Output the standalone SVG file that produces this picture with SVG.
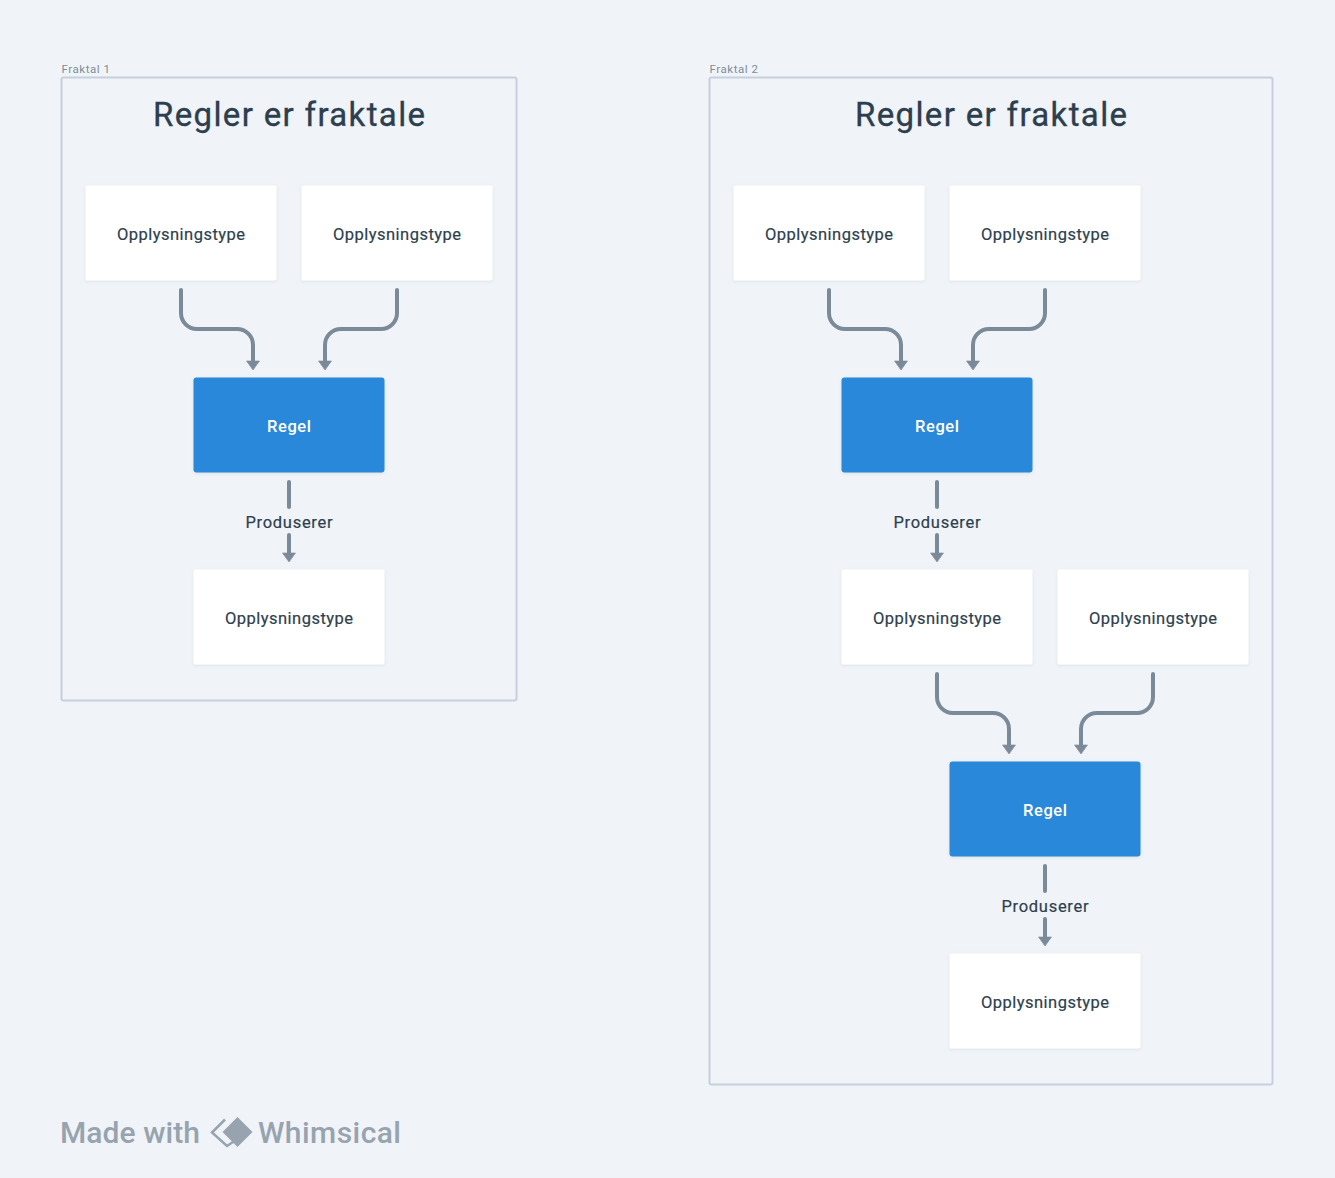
<svg xmlns="http://www.w3.org/2000/svg" width="1335" height="1178" viewBox="0 0 1335 1178">
<defs>
<style>
text{font-family:"Roboto","Liberation Sans",sans-serif;text-anchor:middle}
.frame{fill:none;stroke:#c5d0dc;stroke-width:2}
.flabel{font-size:11.5px;fill:#7f8d9b;text-anchor:start;letter-spacing:.5px}
.title{font-size:33px;font-weight:400;fill:#2d3e4e;stroke:#2d3e4e;stroke-width:.35px}
.box{fill:#fff;filter:url(#s)}
.rule{fill:#2b88da;filter:url(#s)}
.t{font-size:16.5px;font-weight:400;fill:#2f3f4e;stroke:#2f3f4e;stroke-width:.2px}
.w{font-size:16.5px;font-weight:500;fill:#fff}
.c{fill:none;stroke:#7b8a99;stroke-width:4;stroke-linecap:round;stroke-linejoin:round}
.brand{font-size:30px;font-weight:500;fill:#97a3ae;text-anchor:start}
</style>
<filter id="s" x="-5%" y="-5%" width="110%" height="115%"><feDropShadow dx="0" dy="1" stdDeviation="1.500" flood-color="#5d7080" flood-opacity=".16"/></filter>
<path id="h" d="M-6.500 0H6.500L0 9Z" fill="#7b8a99" stroke="#7b8a99" stroke-width=".6" stroke-linejoin="round"/>
</defs>
<rect width="1335" height="1178" fill="#f0f4f8"/>
<g id="frame1"><rect class="frame" x="61.500" y="77.500" width="455" height="623" rx="2"/><text class="flabel" x="61.500" y="72.500" textLength="49" lengthAdjust="spacing">Fraktal 1</text><text class="title" x="289" y="125.500" textLength="272" lengthAdjust="spacing">Regler er fraktale</text></g>
<g id="frame2"><rect class="frame" x="709.500" y="77.500" width="563" height="1007" rx="2"/><text class="flabel" x="709.500" y="72.500" textLength="49" lengthAdjust="spacing">Fraktal 2</text><text class="title" x="991" y="125.500" textLength="272" lengthAdjust="spacing">Regler er fraktale</text></g>
<g id="connectors">
<path class="c" d="M181 290V313A16 16 0 0 0 197 329H237A16 16 0 0 1 253 345V362"/><use href="#h" x="253" y="361"/>
<path class="c" d="M397 290V313A16 16 0 0 1 381 329H341A16 16 0 0 0 325 345V362"/><use href="#h" x="325" y="361"/>
<path class="c" d="M289 482V507"/><path class="c" d="M289 535V554"/><use href="#h" x="289" y="553"/>
<path class="c" d="M829 290V313A16 16 0 0 0 845 329H885A16 16 0 0 1 901 345V362"/><use href="#h" x="901" y="361"/>
<path class="c" d="M1045 290V313A16 16 0 0 1 1029 329H989A16 16 0 0 0 973 345V362"/><use href="#h" x="973" y="361"/>
<path class="c" d="M937 482V507"/><path class="c" d="M937 535V554"/><use href="#h" x="937" y="553"/>
<path class="c" d="M937 674V697A16 16 0 0 0 953 713H993A16 16 0 0 1 1009 729V746"/><use href="#h" x="1009" y="745"/>
<path class="c" d="M1153 674V697A16 16 0 0 1 1137 713H1097A16 16 0 0 0 1081 729V746"/><use href="#h" x="1081" y="745"/>
<path class="c" d="M1045 866V891"/><path class="c" d="M1045 919V938"/><use href="#h" x="1045" y="937"/>
<text class="t" x="289" y="527.500" textLength="87" lengthAdjust="spacing">Produserer</text><text class="t" x="937" y="527.500" textLength="87" lengthAdjust="spacing">Produserer</text><text class="t" x="1045" y="911.500" textLength="87" lengthAdjust="spacing">Produserer</text>
</g>
<g id="n1"><rect class="box" x="85.500" y="185.500" width="191" height="95" rx="2"/><text class="t" x="181" y="239.500" textLength="128" lengthAdjust="spacing">Opplysningstype</text></g>
<g id="n2"><rect class="box" x="301.500" y="185.500" width="191" height="95" rx="2"/><text class="t" x="397" y="239.500" textLength="128" lengthAdjust="spacing">Opplysningstype</text></g>
<g id="n3"><rect class="rule" x="193.500" y="377.500" width="191" height="95" rx="3"/><text class="w" x="289" y="431.500" textLength="44" lengthAdjust="spacing">Regel</text></g>
<g id="n4"><rect class="box" x="193.500" y="569.500" width="191" height="95" rx="2"/><text class="t" x="289" y="623.500" textLength="128" lengthAdjust="spacing">Opplysningstype</text></g>
<g id="n5"><rect class="box" x="733.500" y="185.500" width="191" height="95" rx="2"/><text class="t" x="829" y="239.500" textLength="128" lengthAdjust="spacing">Opplysningstype</text></g>
<g id="n6"><rect class="box" x="949.500" y="185.500" width="191" height="95" rx="2"/><text class="t" x="1045" y="239.500" textLength="128" lengthAdjust="spacing">Opplysningstype</text></g>
<g id="n7"><rect class="rule" x="841.500" y="377.500" width="191" height="95" rx="3"/><text class="w" x="937" y="431.500" textLength="44" lengthAdjust="spacing">Regel</text></g>
<g id="n8"><rect class="box" x="841.500" y="569.500" width="191" height="95" rx="2"/><text class="t" x="937" y="623.500" textLength="128" lengthAdjust="spacing">Opplysningstype</text></g>
<g id="n9"><rect class="box" x="1057.500" y="569.500" width="191" height="95" rx="2"/><text class="t" x="1153" y="623.500" textLength="128" lengthAdjust="spacing">Opplysningstype</text></g>
<g id="n10"><rect class="rule" x="949.500" y="761.500" width="191" height="95" rx="3"/><text class="w" x="1045" y="815.500" textLength="44" lengthAdjust="spacing">Regel</text></g>
<g id="n11"><rect class="box" x="949.500" y="953.500" width="191" height="95" rx="2"/><text class="t" x="1045" y="1007.500" textLength="128" lengthAdjust="spacing">Opplysningstype</text></g>
<g id="brand"><text class="brand" x="60" y="1143" textLength="140" lengthAdjust="spacing">Made with</text><path d="M225 1119.500L212 1132.500L227 1146L236 1140" fill="none" stroke="#97a3ae" stroke-width="2.500"/><path d="M237.500 1117L252.500 1132L237.500 1147L222.500 1132Z" fill="#97a3ae"/><text class="brand" x="258" y="1143" textLength="143" lengthAdjust="spacing">Whimsical</text></g>
</svg>
